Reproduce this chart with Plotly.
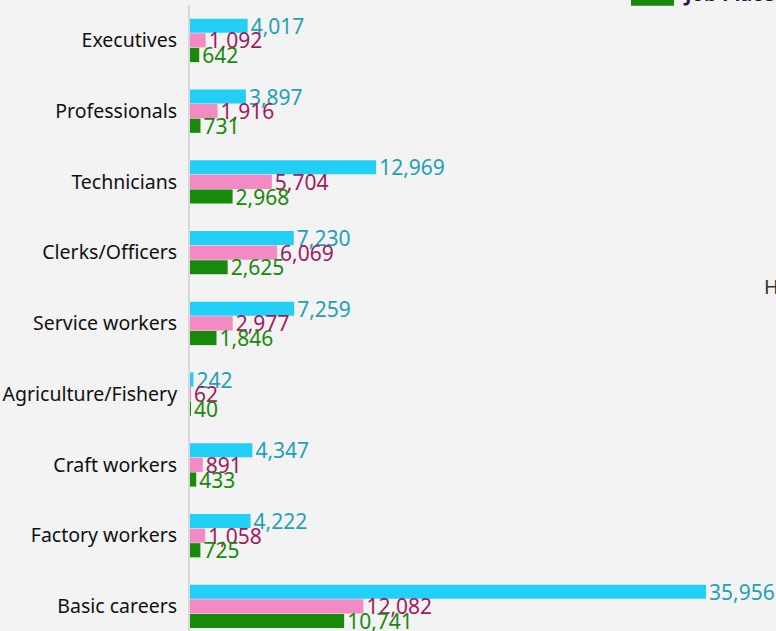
import plotly.graph_objects as go

categories = ["Executives", "Professionals", "Technicians", "Clerks/Officers",
              "Service workers", "Agriculture/Fishery", "Craft workers",
              "Factory workers", "Basic careers"]
openings = [4017, 3897, 12969, 7230, 7259, 242, 4347, 4222, 35956]
seekers = [1092, 1916, 5704, 6069, 2977, 62, 891, 1058, 12082]
placements = [642, 731, 2968, 2625, 1846, 40, 433, 725, 10741]

series_names = ["Job Openings", "Job Seekers", "Job Placements"]
bar_colors = ["#22d0f7", "#f48ac4", "#178a0b"]
text_colors = ["#1ea2b4", "#a3195e", "#178a0b"]

FONT = "Noto Sans"
W, H = 776, 631
m_l, m_r, m_t, m_b = 190, 0, 5, 0
plot_h = H - m_t - m_b
plot_w = W - m_l - m_r
x_max = 40833

fig = go.Figure()
for name, vals, bc, tc in zip(series_names, [openings, seekers, placements], bar_colors, text_colors):
    fig.add_trace(go.Bar(
        y=categories, x=vals, name=name, orientation="h",
        marker=dict(color=bc, line=dict(width=0)),
        texttemplate="%{x:,}", textposition="outside",
        textfont=dict(color=tc, size=21, family=FONT),
        constraintext="none", cliponaxis=False,
    ))

fig.update_layout(
    width=W, height=H,
    margin=dict(l=m_l, r=m_r, t=m_t, b=m_b, pad=0),
    paper_bgcolor="#f3f3f3", plot_bgcolor="#f3f3f3",
    barmode="group", bargap=0.38, bargroupgap=0.03,
    showlegend=False,
    font=dict(family=FONT, color="#111111"),
    xaxis=dict(range=[0, x_max], showgrid=False, zeroline=False,
               showticklabels=False, showline=False),
    yaxis=dict(range=[8.348, -0.5], type="category", showgrid=False,
               showline=True, linecolor="#d8d8d8", linewidth=2,
               ticks="outside", ticklen=7, tickcolor="rgba(0,0,0,0)",
               tickfont=dict(size=19.5, color="#111111", family=FONT)),
)

def py(pix):
    return 1 - (pix - m_t) / plot_h

def px(pix):
    return (pix - m_l) / plot_w

# partially visible legend entry at the top edge
fig.add_shape(type="rect", xref="paper", yref="paper",
              x0=px(631), x1=px(674), y0=py(5.7), y1=py(-12),
              fillcolor="#178a0b", line=dict(width=0))
fig.add_annotation(text="<b>Job Placements</b>", xref="paper", yref="paper",
                   x=px(681), y=py(9), xanchor="left", yanchor="bottom",
                   showarrow=False, font=dict(size=20, color="#1c1a4c", family=FONT))
fig.add_annotation(text="H", xref="paper", yref="paper",
                   x=px(762), y=py(286), xanchor="left", yanchor="middle",
                   showarrow=False, font=dict(size=20, color="#333333", family=FONT))

fig.write_html("out.html", config={"displayModeBar": False},
               post_script="document.body.style.margin='0';document.body.style.overflow='hidden';")
